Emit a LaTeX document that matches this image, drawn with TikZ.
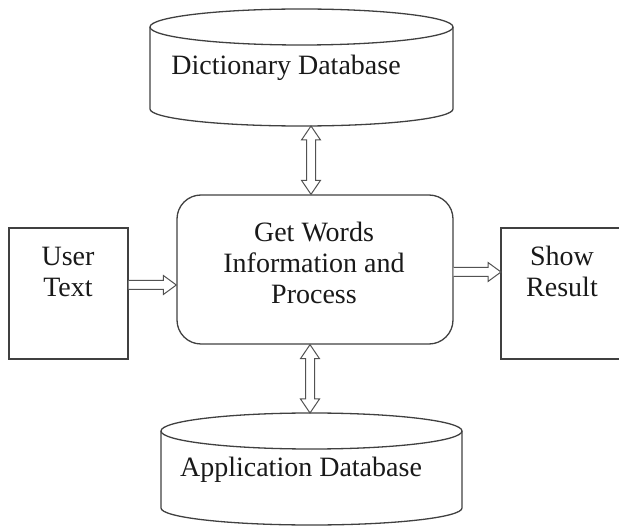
\documentclass[tikz,border=0pt]{standalone}
\usepackage{fontspec}
\setmainfont{Liberation Serif}
\usetikzlibrary{calc}
\tikzset{
  ln/.style={draw=black!75, line width=1.3pt},
  lbl/.style={font=\fontsize{28}{31}\selectfont, align=center, inner sep=0pt, text=black!90},
  boxstyle/.style={ln, rectangle, inner sep=0pt},
  blockarr/.style={draw=black!68, line width=1pt, fill=white, line join=miter},
}
\begin{document}
\begin{tikzpicture}[x=1pt,y=-1pt]
\useasboundingbox (0,0) rectangle (619,526);
\clip (0,0) rectangle (619,526);
% Dictionary cylinder
\draw[ln] (150,27) -- (150,109) arc[start angle=180,end angle=360,x radius=151.5,y radius=-17] -- (453,27);
\draw[ln] (301.5,27) ellipse[x radius=151.5, y radius=18];
\node[lbl, anchor=base] (dict) at (286,75) {Dictionary Database};
\coordinate (dictb) at (311,126);
% Application cylinder
\draw[ln] (161,431) -- (161,508) arc[start angle=180,end angle=360,x radius=150.5,y radius=-17] -- (462,431);
\draw[ln] (311.5,431) ellipse[x radius=150.5, y radius=18];
\node[lbl, anchor=base] (app) at (301,477) {Application Database};
\coordinate (appt) at (310,413);
% Central process box
\node[boxstyle, rounded corners=24pt, minimum width=276pt, minimum height=149pt] (procbox) at (315,269.5) {};
\node[lbl] (proc) at (314,263) {Get Words\\Information and\\Process};
% User text
\node[boxstyle, minimum width=119pt, minimum height=131pt] (userbox) at (68.5,293.5) {};
\node[lbl] (user) at (68,272) {User\\Text};
% Show result (right side runs off the picture)
\draw[ln] (640,228) -- (501,228) -- (501,359) -- (640,359);
\node[lbl] (show) at (562,271) {Show\\Result};
\coordinate (showl) at (501,272);
% anchors on boxes
\coordinate (proct) at (procbox.north -| dictb);
\coordinate (procb) at (procbox.south -| appt);
\coordinate (userr) at ($(userbox.east)+(0,-8.5)$);
\coordinate (procl) at (procbox.west |- userr);
\coordinate (procr) at (procbox.east |- showl);
% vertical double arrows
\draw[blockarr] (dictb) -- ++(9.5,14) -- ++(-5,0) -- ($(proct)+(4.5,-14)$) -- ++(5,0) -- (proct) -- ++(-9.5,-14) -- ++(5,0) -- ($(dictb)+(-4.5,14)$) -- ++(-5,0) -- cycle;
\draw[blockarr] (procb) -- ++(9.5,14) -- ++(-5,0) -- ($(appt)+(4.5,-14)$) -- ++(5,0) -- (appt) -- ++(-9.5,-14) -- ++(5,0) -- ($(procb)+(-4.5,14)$) -- ++(-5,0) -- cycle;
% horizontal arrows
\draw[blockarr] ($(userr)+(0,-4.5)$) -- ($(procl)+(-13,-4.5)$) -- ++(0,-5) -- (procl) -- ($(procl)+(-13,9.5)$) -- ++(0,-5) -- ($(userr)+(0,4.5)$);
\draw[blockarr] ($(procr)+(0,-4.5)$) -- ($(showl)+(-13,-4.5)$) -- ++(0,-5) -- (showl) -- ($(showl)+(-13,9.5)$) -- ++(0,-5) -- ($(procr)+(0,4.5)$);
\end{tikzpicture}
\end{document}
